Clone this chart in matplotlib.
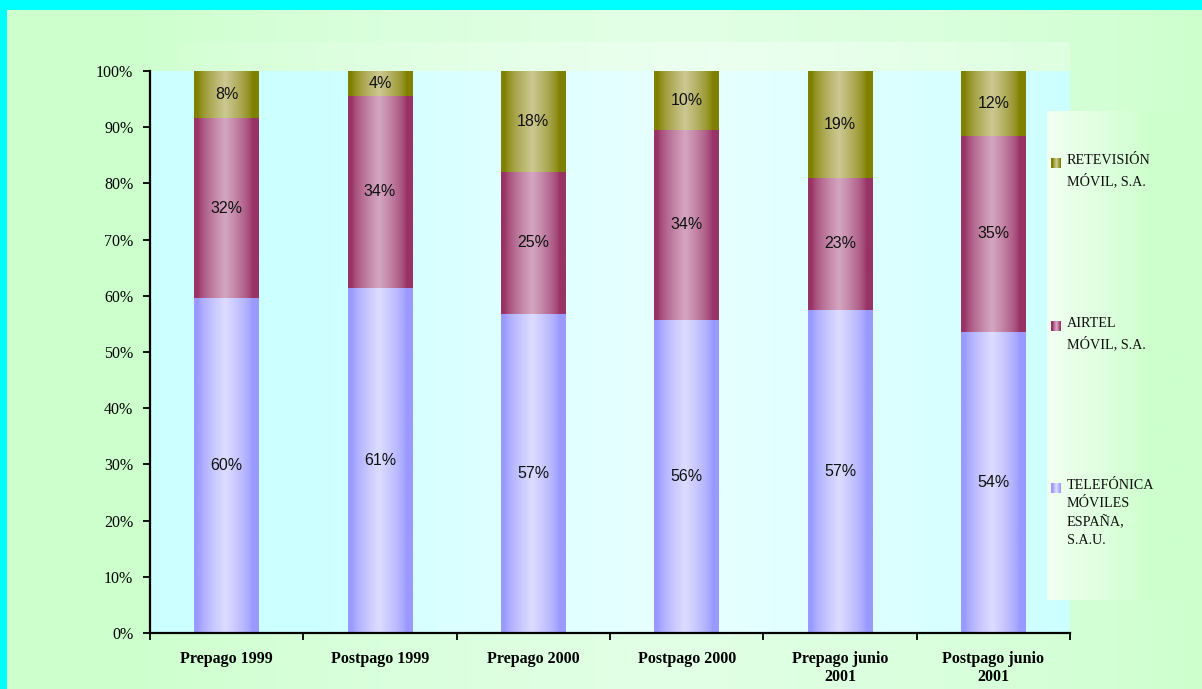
import numpy as np
import matplotlib
matplotlib.use("Agg")
import matplotlib.pyplot as plt
from matplotlib.colors import to_rgb

categories = ["Prepago 1999", "Postpago 1999", "Prepago 2000", "Postpago 2000",
              "Prepago junio\n2001", "Postpago junio\n2001"]
series_names = ["TELEFÓNICA\nMÓVILES\nESPAÑA,\nS.A.U.", "AIRTEL\nMÓVIL, S.A.", "RETEVISIÓN\nMÓVIL, S.A."]
telefonica = [59.6, 61.4, 56.8, 55.7, 57.5, 53.6]
airtel = [32.0, 34.2, 25.2, 33.8, 23.5, 34.8]
retevision = [8.4, 4.4, 18.0, 10.5, 19.0, 11.6]
telefonica_lbl = ["60%", "61%", "57%", "56%", "57%", "54%"]
airtel_lbl = ["32%", "34%", "25%", "34%", "23%", "35%"]
retevision_lbl = ["8%", "4%", "18%", "10%", "19%", "12%"]

dark = ["#9999FF", "#993366", "#808000"]
light = ["#DCDCFF", "#D4A6C0", "#CCC892"]

W, H = 1202, 689
fig = plt.figure(figsize=(W / 100, H / 100), dpi=100)
fig.patch.set_facecolor("#00FFFF")


def hgrad(c_edge, c_mid, n=256, peak=0.55, width=0.35):
    t = np.linspace(0, 1, n)
    w = np.clip(1 - np.abs(t - peak) / width, 0, 1)
    w = w ** 0.7
    a = np.array(to_rgb(c_edge)); b = np.array(to_rgb(c_mid))
    return (a[None, :] * (1 - w[:, None]) + b[None, :] * w[:, None])[None, :, :]


# green frame background
bg = fig.add_axes([7 / W, 0, 1 - 7 / W, 1 - 10 / H], zorder=-3)
bg.imshow(hgrad("#CCFFCC", "#E2FFE6", peak=0.55, width=0.45), aspect="auto", extent=(0, 1, 0, 1))
bg.set_axis_off()

# band above plot area
band = fig.add_axes([175 / W, 1 - 71 / H, (1070 - 175) / W, (71 - 42) / H], zorder=-2)
band.imshow(hgrad("#D2FFD2", "#ECFFF0", peak=0.6, width=0.6), aspect="auto", extent=(0, 1, 0, 1))
band.set_axis_off()

ax = fig.add_axes([150 / W, 1 - 633 / H, (1070 - 150) / W, (633 - 71) / H], zorder=0)
x = np.arange(len(categories))
ax.imshow(hgrad("#CCFFFF", "#E8FFFF", peak=0.58, width=0.4), aspect="auto",
          extent=(-0.5, len(categories) - 0.5, 0, 100), zorder=0)

bar_w = 0.42
bottoms = np.zeros(len(categories))
series = [telefonica, airtel, retevision]
labels = [telefonica_lbl, airtel_lbl, retevision_lbl]
for vals, lbls, cd, cl in zip(series, labels, dark, light):
    bars = ax.bar(x, vals, bar_w, bottom=bottoms, color=cd, zorder=2)
    g = hgrad(cd, cl, peak=0.48, width=0.42)
    for p, lb in zip(bars, lbls):
        x0, y0, w, h = p.get_x(), p.get_y(), p.get_width(), p.get_height()
        ax.imshow(g, aspect="auto", extent=(x0, x0 + w, y0, y0 + h), zorder=3)
        ax.text(x0 + w / 2, y0 + h / 2, lb, ha="center", va="center",
                fontsize=11.5, family="Liberation Sans", color="#111111", zorder=5)
    bottoms = bottoms + np.array(vals)

ax.set_xlim(-0.5, len(categories) - 0.5)
ax.set_ylim(0, 100)
ax.set_yticks(np.arange(0, 101, 10))
ax.set_yticklabels([f"{v}%" for v in range(0, 101, 10)], family="Liberation Serif", fontsize=11.5)
ax.set_xticks(x)
ax.set_xticklabels(categories, family="Liberation Serif", fontsize=11.5, fontweight="bold",
                   linespacing=1.15)
ax.set_xticks(np.arange(-0.5, len(categories)), minor=True)
ax.tick_params(axis="x", which="major", length=0, pad=13)
ax.tick_params(axis="x", which="minor", length=5, width=1.3, direction="out")
ax.tick_params(axis="y", length=5, width=1.3, direction="out", pad=7)
for s in ["top", "right"]:
    ax.spines[s].set_visible(False)
for s in ["left", "bottom"]:
    ax.spines[s].set_linewidth(1.6)
    ax.spines[s].set_zorder(6)

# legend box background
lg = fig.add_axes([1047 / W, 1 - 600 / H, (W - 1047) / W, (600 - 111) / H], zorder=1)
t = np.clip(np.linspace(0, 1, 256) / 0.7, 0, 1)
a = np.array(to_rgb("#F2FFF2")); b = np.array(to_rgb("#CCFFCC"))
lg.imshow((a[None, :] * (1 - t[:, None]) + b[None, :] * t[:, None])[None, :, :],
          aspect="auto", extent=(0, 1, 0, 1))
lg.set_axis_off()

# manual legend
leg_items = [(series_names[2], dark[2], light[2], 163),
             (series_names[1], dark[1], light[1], 326),
             (series_names[0], dark[0], light[0], 488)]
for name, cd, cl, ypx in leg_items:
    mx = fig.add_axes([1051 / W, 1 - (ypx + 5) / H, 10 / W, 10 / H], zorder=2)
    mx.imshow(hgrad(cd, cl, n=10, peak=0.55, width=0.4), aspect="auto", extent=(0, 1, 0, 1))
    mx.set_axis_off()
    fig.text(1067 / W, 1 - (ypx - 9) / H, name, ha="left", va="top",
             family="Liberation Serif", fontsize=10.2, linespacing=1.5, color="#111111",
             zorder=3)

fig.savefig("out.png", dpi=100, facecolor=fig.get_facecolor())
